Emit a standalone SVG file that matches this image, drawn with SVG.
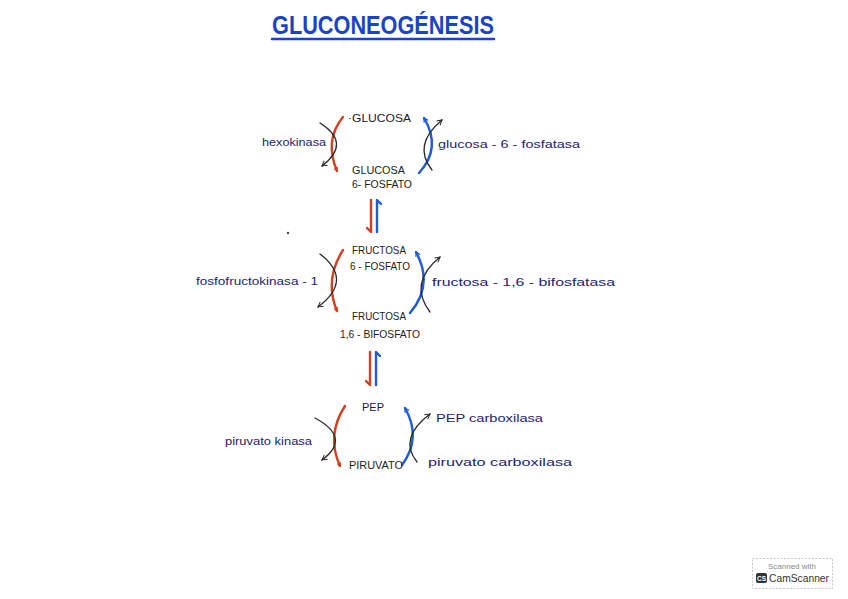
<svg xmlns="http://www.w3.org/2000/svg" width="848" height="599" viewBox="0 0 848 599">
<style>
.node{font-family:"Liberation Sans",Arial,sans-serif;font-size:10.5px;fill:#222;}
.enz{font-family:"Liberation Sans",Arial,sans-serif;font-size:11px;fill:#1c2470;}
.title{font-family:"Liberation Sans",Arial,sans-serif;font-size:26px;font-weight:bold;fill:#1a44c8;}
.r{fill:none;stroke:#d2401f;stroke-width:2.4;stroke-linecap:round;}
.b{fill:none;stroke:#1e5bd6;stroke-width:2.4;stroke-linecap:round;}
.k{fill:none;stroke:#2a2a2a;stroke-width:1.3;stroke-linecap:round;}
</style>
<defs>
<marker id="mr" viewBox="0 0 10 10" refX="8" refY="5" markerWidth="5" markerHeight="5" orient="auto" markerUnits="userSpaceOnUse"><path d="M1,1 L8,5 L1,9" fill="none" stroke="#d2401f" stroke-width="2"/></marker>
<marker id="mb" viewBox="0 0 10 10" refX="8" refY="5" markerWidth="6" markerHeight="6" orient="auto" markerUnits="userSpaceOnUse"><path d="M1,1 L8,5 L1,9" fill="none" stroke="#1e5bd6" stroke-width="2"/></marker>
<marker id="mk" viewBox="0 0 10 10" refX="8" refY="5" markerWidth="7" markerHeight="7" orient="auto" markerUnits="userSpaceOnUse"><path d="M1,1 L8,5 L1,9" fill="none" stroke="#2a2a2a" stroke-width="1.4"/></marker>
</defs>
<rect width="848" height="599" fill="#ffffff"/>

<g id="title">
<text class="title" x="272" y="34" textLength="222" lengthAdjust="spacingAndGlyphs">GLUCONEOGÉNESIS</text>
<path d="M272,39 L494,39" stroke="#1a44c8" stroke-width="2.5" stroke-linecap="round"/>
</g>

<g id="connectors">
<!-- cycle 1 -->
<path class="r" d="M343,117 Q324,140 337,171" marker-end="url(#mr)"/>
<path class="k" d="M320,123 Q352,143 322,166" marker-end="url(#mk)"/>
<path class="b" d="M419,173 Q442,148 424,118" marker-end="url(#mb)"/>
<path class="k" d="M432,170 Q412,145 442,120" marker-end="url(#mk)"/>
<!-- double arrow 1 -->
<path class="r" d="M371,200 L371,232 L367,228" stroke-linejoin="round"/>
<path class="b" d="M377,232 L377,200 L381,204" stroke-linejoin="round"/>
<!-- cycle 2 -->
<path class="r" d="M343,250 Q324,280 337,311" marker-end="url(#mr)"/>
<path class="k" d="M320,254 Q354,280 318,307" marker-end="url(#mk)"/>
<path class="b" d="M410,313 Q434,285 416,252" marker-end="url(#mb)"/>
<path class="k" d="M430,312 Q408,283 440,257" marker-end="url(#mk)"/>
<!-- double arrow 2 -->
<path class="r" d="M370,352 L370,385 L366,381" stroke-linejoin="round"/>
<path class="b" d="M376,385 L376,352 L380,356" stroke-linejoin="round"/>
<!-- cycle 3 -->
<path class="r" d="M345,406 Q326,435 340,466" marker-end="url(#mr)"/>
<path class="k" d="M315,418 Q352,438 322,460" marker-end="url(#mk)"/>
<path class="b" d="M402,465 Q422,438 405,408" marker-end="url(#mb)"/>
<path class="k" d="M417,462 Q398,438 430,414" marker-end="url(#mk)"/>
</g>

<g id="glucosa"><text class="node" x="348" y="122" textLength="63" lengthAdjust="spacingAndGlyphs">·GLUCOSA</text></g>
<g id="glucosa-6-fosfato">
<text class="node" x="352" y="174" textLength="53" lengthAdjust="spacingAndGlyphs">GLUCOSA</text>
<text class="node" x="352" y="188" textLength="60" lengthAdjust="spacingAndGlyphs">6- FOSFATO</text>
</g>
<g id="fructosa-6-fosfato">
<text class="node" x="352" y="254" textLength="54" lengthAdjust="spacingAndGlyphs">FRUCTOSA</text>
<text class="node" x="350" y="270" textLength="60" lengthAdjust="spacingAndGlyphs">6 - FOSFATO</text>
</g>
<g id="fructosa-1-6-bifosfato">
<text class="node" x="352" y="320" textLength="54" lengthAdjust="spacingAndGlyphs">FRUCTOSA</text>
<text class="node" x="340" y="338" textLength="80" lengthAdjust="spacingAndGlyphs">1,6 - BIFOSFATO</text>
</g>
<g id="pep"><text class="node" x="362" y="411" textLength="22" lengthAdjust="spacingAndGlyphs">PEP</text></g>
<g id="piruvato"><text class="node" x="349" y="469" textLength="54" lengthAdjust="spacingAndGlyphs">PIRUVATO</text></g>

<g id="hexokinasa"><text class="enz" x="262" y="146" textLength="64" lengthAdjust="spacingAndGlyphs">hexokinasa</text></g>
<g id="glucosa-6-fosfatasa"><text class="enz" x="438" y="148" textLength="142" lengthAdjust="spacingAndGlyphs">glucosa - 6 - fosfatasa</text></g>
<g id="fosfofructokinasa-1"><text class="enz" x="196" y="285" textLength="122" lengthAdjust="spacingAndGlyphs">fosfofructokinasa - 1</text></g>
<g id="fructosa-1-6-bifosfatasa"><text class="enz" x="432" y="286" textLength="183" lengthAdjust="spacingAndGlyphs">fructosa - 1,6 - bifosfatasa</text></g>
<g id="piruvato-kinasa"><text class="enz" x="225" y="445" textLength="87" lengthAdjust="spacingAndGlyphs">piruvato kinasa</text></g>
<g id="pep-carboxilasa"><text class="enz" x="436" y="422" textLength="107" lengthAdjust="spacingAndGlyphs">PEP carboxilasa</text></g>
<g id="piruvato-carboxilasa"><text class="enz" x="428" y="466" textLength="144" lengthAdjust="spacingAndGlyphs">piruvato carboxilasa</text></g>

<circle cx="288" cy="233" r="1.2" fill="#444"/>

<g id="camscanner-badge">
<rect x="752.5" y="558.5" width="80" height="30" fill="#ffffff" stroke="#c8c8c8" stroke-dasharray="2,1.5"/>
<text x="792" y="569" text-anchor="middle" font-family="Liberation Sans,Arial,sans-serif" font-size="8" fill="#8a8a8a">Scanned with</text>
<rect x="756" y="573" width="11" height="10" rx="2" fill="#333"/>
<text x="761.5" y="581" text-anchor="middle" font-family="Liberation Sans,Arial,sans-serif" font-size="6.5" font-weight="bold" fill="#fff">CS</text>
<text x="769" y="582" font-family="Liberation Sans,Arial,sans-serif" font-size="10.5" fill="#333" textLength="60" lengthAdjust="spacingAndGlyphs">CamScanner</text>
</g>
</svg>
